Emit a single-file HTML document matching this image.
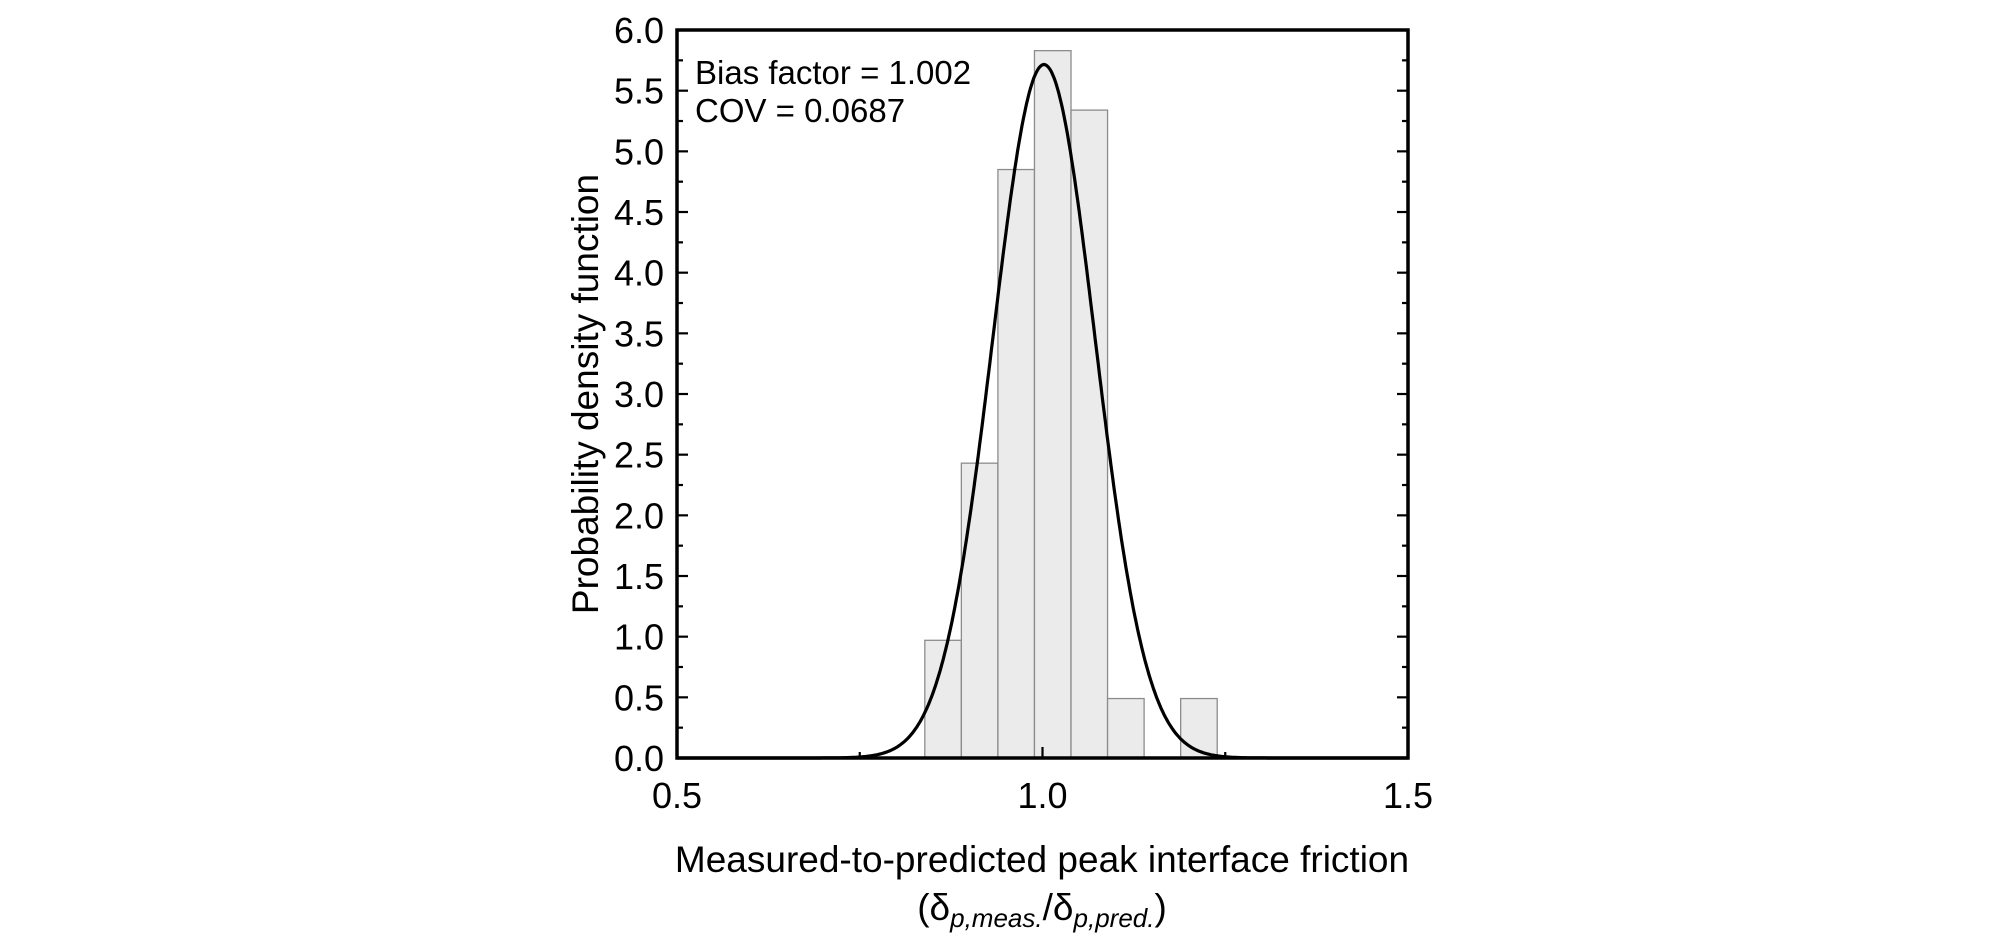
<!DOCTYPE html>
<html><head><meta charset="utf-8"><style>
html,body{margin:0;padding:0;background:#fff;}
svg{display:block;font-family:"Liberation Sans",Arial,sans-serif;}
</style></head><body>
<svg id="s" width="2008" height="944" viewBox="0 0 2008 944" xmlns="http://www.w3.org/2000/svg">
<g id="bars" fill="#ebebeb" stroke="#8c8c8c" stroke-width="1.3"></g>
<path id="curve" fill="none" stroke="#000" stroke-width="3.2" stroke-linejoin="round"/>
<g id="ticks" stroke="#000" stroke-width="2.2"></g>
<rect x="677" y="30" width="731" height="728" fill="none" stroke="#000" stroke-width="3.5"/>
<g id="ylab" font-size="36" text-anchor="end"></g>
<g font-size="36" text-anchor="middle">
<text x="677" y="808">0.5</text><text x="1042.5" y="808">1.0</text><text x="1408" y="808">1.5</text>
</g>
<text x="1042" y="872" font-size="37" text-anchor="middle">Measured-to-predicted peak interface friction</text>
<text x="1042" y="920" font-size="37" text-anchor="middle">(δ<tspan font-size="26" font-style="italic" dy="7">p,meas.</tspan><tspan dy="-7">/δ</tspan><tspan font-size="26" font-style="italic" dy="7">p,pred.</tspan><tspan dy="-7">)</tspan></text>
<text transform="translate(598,394) rotate(-90)" font-size="37" text-anchor="middle">Probability density function</text>
<text x="695" y="84" font-size="33">Bias factor = 1.002</text>
<text x="695" y="122" font-size="33">COV = 0.0687</text>
</svg>
<script>
var X=function(v){return 677+(v-0.5)*731;},Y=function(v){return 758-v*121.33;};
var ns="http://www.w3.org/2000/svg";
function el(p,t,a){var e=document.createElementNS(ns,t);for(var k in a)e.setAttribute(k,a[k]);document.getElementById(p).appendChild(e);return e;}
var h=[0.97,2.43,4.85,5.83,5.34,0.49,0,0.49];
for(var i=0;i<h.length;i++){if(!h[i])continue;var x0=X(0.839+i*0.05),x1=X(0.839+(i+1)*0.05);
el("bars","rect",{x:x0,y:Y(h[i]),width:x1-x0,height:Y(0)-Y(h[i])});}
var m=1.002,s=0.0698,d="";
for(var x=0.5;x<=1.5001;x+=0.002){var y=Math.exp(-0.5*Math.pow((x-m)/s,2))/(s*Math.sqrt(2*Math.PI));
d+=(d?"L":"M")+X(x).toFixed(1)+","+Y(y).toFixed(1);}
document.getElementById("curve").setAttribute("d",d);
for(var k=0;k<=24;k++){var v=k*0.25,y=Y(v),L=(k%2==0)?11:6;
el("ticks","line",{x1:677,x2:677+L,y1:y,y2:y});el("ticks","line",{x1:1408,x2:1408-L,y1:y,y2:y});
if(k%2==0){var t=el("ylab","text",{x:664,y:y+13});t.textContent=v.toFixed(1);}}
for(var k=0;k<=4;k++){var x=X(0.5+k*0.25),L=(k%2==0)?11:6;
el("ticks","line",{x1:x,x2:x,y1:758,y2:758-L});}
</script>
</body></html>
